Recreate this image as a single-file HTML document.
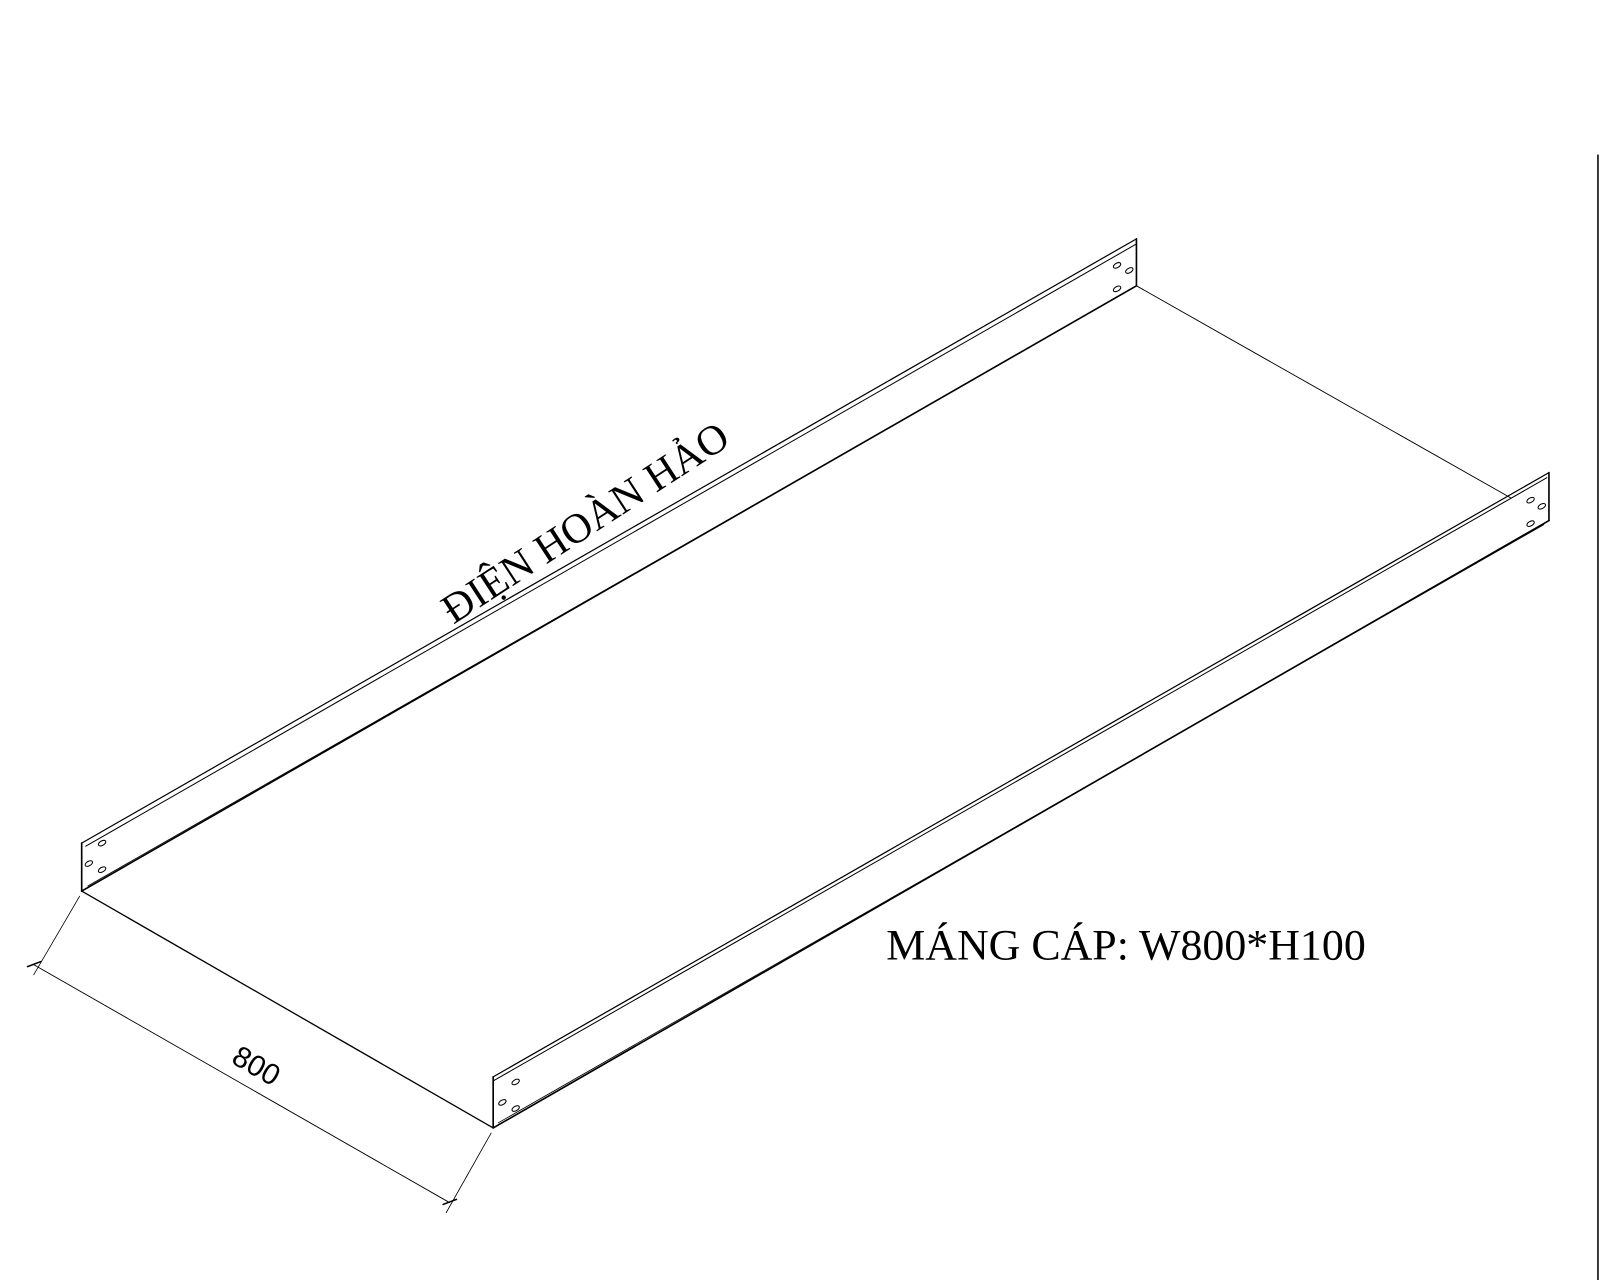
<!DOCTYPE html>
<html><head><meta charset="utf-8"><style>html,body{margin:0;padding:0;background:#fff}svg{display:block}</style></head>
<body>
<svg width="1600" height="1280" viewBox="0 0 1567 1254" preserveAspectRatio="none" xmlns="http://www.w3.org/2000/svg">
<rect width="1567" height="1254" fill="#fff"/>
<g stroke="#000" fill="none" stroke-linecap="round">
<line x1="80" y1="826" x2="80" y2="873" stroke-width="1.6"/>
<line x1="1113" y1="234" x2="1113" y2="280" stroke-width="1.6"/>
<line x1="80" y1="826" x2="1113" y2="234" stroke-width="1.2"/>
<line x1="84" y1="829" x2="1113" y2="239" stroke-width="1"/>
<line x1="80" y1="873" x2="1113" y2="280" stroke-width="1.6"/>
<line x1="86" y1="868" x2="1110" y2="282" stroke-width="0.8"/>
<line x1="80" y1="873" x2="483" y2="1105" stroke-width="1.3"/>
<line x1="1113" y1="280" x2="1480" y2="488" stroke-width="0.9"/>
<line x1="483" y1="1055" x2="483" y2="1105" stroke-width="1.6"/>
<line x1="1517" y1="463" x2="1517" y2="510" stroke-width="1.6"/>
<line x1="483" y1="1055" x2="1517" y2="463" stroke-width="1.2"/>
<line x1="483" y1="1059" x2="1515" y2="468" stroke-width="1"/>
<line x1="483" y1="1105" x2="1517" y2="510" stroke-width="1.6"/>
<line x1="488" y1="1100" x2="1512" y2="514" stroke-width="0.8"/>
<g stroke-width="1">
<ellipse cx="100" cy="826" rx="4" ry="2.2" transform="rotate(-30 100 826)"/>
<ellipse cx="87" cy="846" rx="4" ry="2.2" transform="rotate(-30 87 846)"/>
<ellipse cx="100" cy="852" rx="4" ry="2.2" transform="rotate(-30 100 852)"/>
<ellipse cx="1094" cy="260" rx="4" ry="2.2" transform="rotate(-30 1094 260)"/>
<ellipse cx="1106" cy="265" rx="4" ry="2.2" transform="rotate(-30 1106 265)"/>
<ellipse cx="1094" cy="283" rx="4" ry="2.2" transform="rotate(-30 1094 283)"/>
<ellipse cx="505" cy="1060" rx="4" ry="2.2" transform="rotate(-30 505 1060)"/>
<ellipse cx="492" cy="1080" rx="4" ry="2.2" transform="rotate(-30 492 1080)"/>
<ellipse cx="505" cy="1086" rx="4" ry="2.2" transform="rotate(-30 505 1086)"/>
<ellipse cx="1499" cy="490" rx="4" ry="2.2" transform="rotate(-30 1499 490)"/>
<ellipse cx="1510" cy="496" rx="4" ry="2.2" transform="rotate(-30 1510 496)"/>
<ellipse cx="1499" cy="513" rx="4" ry="2.2" transform="rotate(-30 1499 513)"/>
</g>
<line x1="33" y1="945" x2="440" y2="1178" stroke-width="0.9"/>
<line x1="78" y1="878" x2="33" y2="955" stroke-width="0.8"/>
<line x1="481" y1="1110" x2="437" y2="1188" stroke-width="0.8"/>
<line x1="27" y1="947" x2="40" y2="942" stroke-width="1.5"/>
<line x1="434" y1="1180" x2="447" y2="1175" stroke-width="1.5"/>
<line x1="1565" y1="152" x2="1565" y2="1254" stroke-width="1.5"/>
</g>
<text x="250" y="1046" font-family="Liberation Sans, sans-serif" font-size="29" text-anchor="middle" dominant-baseline="middle" transform="rotate(30 250 1046)">800</text>
<text x="0" y="0" font-family="Liberation Serif, serif" font-size="41" transform="translate(444,612) rotate(-33)">ĐIỆN HOÀN HẢO</text>
<text x="868" y="940" font-family="Liberation Serif, serif" font-size="43">MÁNG CÁP: W800*H100</text>
</svg>
</body></html>
